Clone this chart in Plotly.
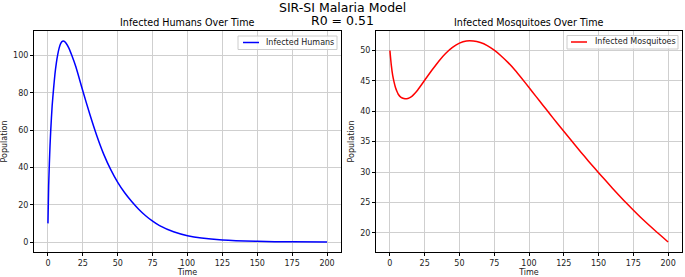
import plotly.graph_objects as go

# ---- data ----
t_humans = [0, 0.5, 1, 1.5, 2, 3, 4, 5, 6, 7, 8, 9, 10, 11, 12, 13, 15, 17, 20, 25,
            30, 35, 40, 45, 50, 55, 60, 65, 70, 75, 80, 90, 100, 110, 125, 150, 175, 200]
infected_humans = [10, 30, 42, 52, 60, 73, 82, 90, 96, 100.5, 104, 106.3, 107.5, 107.8,
                   107.5, 106.6, 104, 100.3, 94, 81, 68.5, 57, 47, 38.8, 32, 26.4, 21.7,
                   17.6, 14.1, 11.2, 8.8, 5.5, 3.4, 2.1, 1.05, 0.36, 0.12, 0.04]

t_mosq = [0, 1, 2, 3, 4, 5, 6, 8, 10, 12, 14, 16, 18, 20, 25, 30, 35, 40, 45, 50,
          55, 60, 65, 70, 75, 80, 85, 90, 95, 100, 105, 110, 115, 120, 125, 130,
          135, 140, 145, 150, 160, 170, 180, 190, 200]
infected_mosq = [50, 47.6, 45.9, 44.8, 43.9, 43.3, 42.8, 42.3, 42.1, 42.05, 42.2, 42.5,
                 42.95, 43.5, 45.1, 46.7, 48.2, 49.5, 50.5, 51.2, 51.55, 51.55, 51.3,
                 50.8, 50.05, 49.1, 48.0, 46.75, 45.35, 43.9, 42.45, 41.0, 39.55, 38.1,
                 36.7, 35.3, 33.9, 32.55, 31.2, 29.9, 27.35, 24.9, 22.6, 20.5, 18.5]

x_ticks = [0, 25, 50, 75, 100, 125, 150, 175, 200]
y_ticks_humans = [0, 20, 40, 60, 80, 100]
y_ticks_mosq = [20, 25, 30, 35, 40, 45, 50]

suptitle_1 = "SIR-SI Malaria Model"
suptitle_2 = "R0 = 0.51"
title_humans = "Infected Humans Over Time"
title_mosq = "Infected Mosquitoes Over Time"
x_label = "Time"
y_label = "Population"
legend_humans = "Infected Humans"
legend_mosq = "Infected Mosquitoes"
color_humans = "#0000ff"
color_mosq = "#ff0000"


def padded(vals, frac=0.05):
    lo, hi = min(vals), max(vals)
    d = (hi - lo) * frac
    return [lo - d, hi + d]


W, H = 685, 277
FONT = "DejaVu Sans"
TXT = "#222222"


def px(x):
    return x / W


def py(y):
    return 1 - y / H


fig = go.Figure()
fig.add_trace(go.Scatter(x=t_humans, y=infected_humans, mode="lines",
                         name=legend_humans, showlegend=False,
                         line=dict(color=color_humans, width=1.5, shape="spline", smoothing=0.6),
                         xaxis="x", yaxis="y"))
fig.add_trace(go.Scatter(x=t_mosq, y=infected_mosq, mode="lines",
                         name=legend_mosq, showlegend=False,
                         line=dict(color=color_mosq, width=1.5, shape="spline", smoothing=0.6),
                         xaxis="x2", yaxis="y2"))

ax_common = dict(showline=True, linecolor="#000000", linewidth=1, mirror=True,
                 ticks="outside", ticklen=3, tickcolor="#000000", tickwidth=1,
                 showgrid=True, gridcolor="#cfcfcf", gridwidth=1, zeroline=False,
                 automargin=False,
                 tickfont=dict(family=FONT, size=8, color=TXT))

xt = dict(text=x_label, font=dict(size=8, family=FONT, color=TXT), standoff=0)
yt = dict(text=y_label, font=dict(size=8, family=FONT, color=TXT), standoff=4)

dx1 = [px(34), px(341)]
dx2 = [px(376), px(682)]
dy = [py(252), py(31)]

# legend boxes (drawn in paper space, matplotlib-style compact legend)
legends = [
    dict(box=(238, 36, 337, 49.5), line=(243, 259, 42.5), tx=264, text=legend_humans,
         color=color_humans),
    dict(box=(567, 35.5, 678, 49), line=(571, 587, 42), tx=593, text=legend_mosq,
         color=color_mosq),
]
shapes = []
annotations = [
    dict(text=suptitle_1, x=px(342), y=py(7), xref="paper", yref="paper",
         xanchor="center", yanchor="middle", showarrow=False,
         font=dict(family=FONT, size=12.5, color="#000000")),
    dict(text=suptitle_2, x=px(342), y=py(20.5), xref="paper", yref="paper",
         xanchor="center", yanchor="middle", showarrow=False,
         font=dict(family=FONT, size=12.5, color="#000000")),
    dict(text=title_humans, x=(dx1[0] + dx1[1]) / 2, y=py(22.5), xref="paper",
         yref="paper", xanchor="center", yanchor="middle", showarrow=False,
         font=dict(family=FONT, size=9.6, color="#000000")),
    dict(text=title_mosq, x=(dx2[0] + dx2[1]) / 2, y=py(22.5), xref="paper",
         yref="paper", xanchor="center", yanchor="middle", showarrow=False,
         font=dict(family=FONT, size=9.6, color="#000000")),
]
for lg in legends:
    x0, y0, x1, y1 = lg["box"]
    shapes.append(dict(type="rect", xref="paper", yref="paper",
                       x0=px(x0), x1=px(x1), y0=py(y1), y1=py(y0),
                       fillcolor="rgba(255,255,255,0.8)",
                       line=dict(color="#cccccc", width=1), layer="above"))
    lx0, lx1, ly = lg["line"]
    shapes.append(dict(type="line", xref="paper", yref="paper",
                       x0=px(lx0), x1=px(lx1), y0=py(ly), y1=py(ly),
                       line=dict(color=lg["color"], width=1.5), layer="above"))
    annotations.append(dict(text=lg["text"], x=px(lg["tx"]), y=py(lg["line"][2]),
                            xref="paper", yref="paper", xanchor="left", yanchor="middle",
                            showarrow=False,
                            font=dict(family=FONT, size=8, color=TXT)))

fig.update_layout(
    width=W, height=H,
    margin=dict(l=0, r=0, t=0, b=0, autoexpand=False),
    paper_bgcolor="white", plot_bgcolor="white",
    showlegend=False,
    font=dict(family=FONT, color=TXT),
    xaxis=dict(domain=dx1, anchor="y", range=padded(t_humans), tickvals=x_ticks,
               title=xt, **ax_common),
    yaxis=dict(domain=dy, anchor="x", range=padded(infected_humans), tickvals=y_ticks_humans,
               title=yt, **ax_common),
    xaxis2=dict(domain=dx2, anchor="y2", range=padded(t_mosq), tickvals=x_ticks,
                title=xt, **ax_common),
    yaxis2=dict(domain=dy, anchor="x2", range=padded(infected_mosq), tickvals=y_ticks_mosq,
                title=yt, **ax_common),
    shapes=shapes,
    annotations=annotations,
)

fig.write_html("out.html",
               config={"displayModeBar": False},
               post_script="document.body.style.margin='0';"
                           "document.body.style.overflow='hidden';")
